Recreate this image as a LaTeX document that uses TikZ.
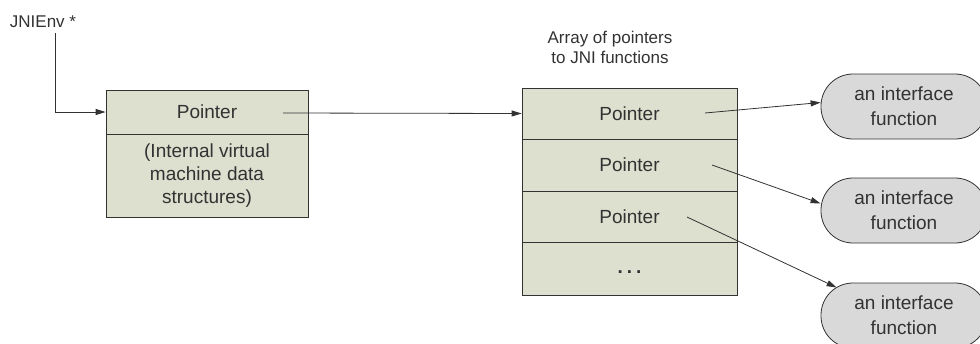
\documentclass[tikz,border=0pt]{standalone}
\usepackage{fontspec}
\setmainfont{Liberation Sans}
\usetikzlibrary{arrows.meta,calc}
\definecolor{boxfill}{RGB}{221,223,207}
\definecolor{fnfill}{RGB}{217,217,217}
\definecolor{ink}{RGB}{50,50,50}
\begin{document}
\begin{tikzpicture}[x=1pt,y=-1pt,
  cell/.style={draw=ink,line width=0.8pt,fill=boxfill,minimum width=#1,inner sep=0pt,
    font=\fontsize{19}{23}\selectfont,text=ink},
  fn/.style={draw=ink,line width=0.8pt,fill=fnfill,rounded corners=32pt,minimum width=166pt,
    minimum height=65pt,inner sep=0pt,align=center,font=\fontsize{19}{25}\selectfont,text=ink},
  lbl/.style={inner sep=0pt,align=center,font=\fontsize{17}{20}\selectfont,text=ink},
  arr/.style={draw=ink,line width=0.8pt,-{Triangle[length=10pt,width=6pt]}}]
\clip (0,0) rectangle (980,343);
\useasboundingbox (0,0) rectangle (980,343);
% JNIEnv label
\node[lbl] (jni) at (43,22) {JNIEnv *};
\coordinate (jstart) at (55,33);
% left structure
\node[cell=202pt,minimum height=44pt] (lptr) at (207,112) {Pointer};
\node[cell=202pt,minimum height=83pt,align=center] (lint) at (207,175.5)
  {(Internal virtual\\machine data\\structures)};
\coordinate (lsrc) at (283,113);
% array
\node[lbl] (title) at (610,47) {Array of pointers\\to JNI functions};
\node[cell=215pt,minimum height=51pt] (a1) at (629.5,113.5) {Pointer};
\node[cell=215pt,minimum height=52pt] (a2) at (629.5,165) {Pointer};
\node[cell=215pt,minimum height=51pt] (a3) at (629.5,216.5) {Pointer};
\node[cell=215pt,minimum height=53pt] (a4) at (629.5,268.5)
  {\raisebox{-10pt}{\textbf{.\hspace{4pt}.\hspace{4pt}.}}};
\coordinate (s1) at (705,113);
\coordinate (s2) at (712,165);
\coordinate (s3) at (687,217);
% interface functions
\node[fn] (f1) at (904,106.5) {an interface\\function};
\node[fn] (f2) at (904,210.5) {an interface\\function};
\node[fn] (f3) at (904,315.5) {an interface\\function};
% connectors
\draw[arr] (jstart) |- (lptr.west);
\draw[arr] (lsrc) -- (a1.west);
\draw[arr] (s1) -- ([yshift=4pt]f1.west);
\draw[arr] (s2) -- ([yshift=7pt]f2.west);
\draw[arr] (s3) -- ($(f3.west)+(16,-28)$);
\end{tikzpicture}
\end{document}
